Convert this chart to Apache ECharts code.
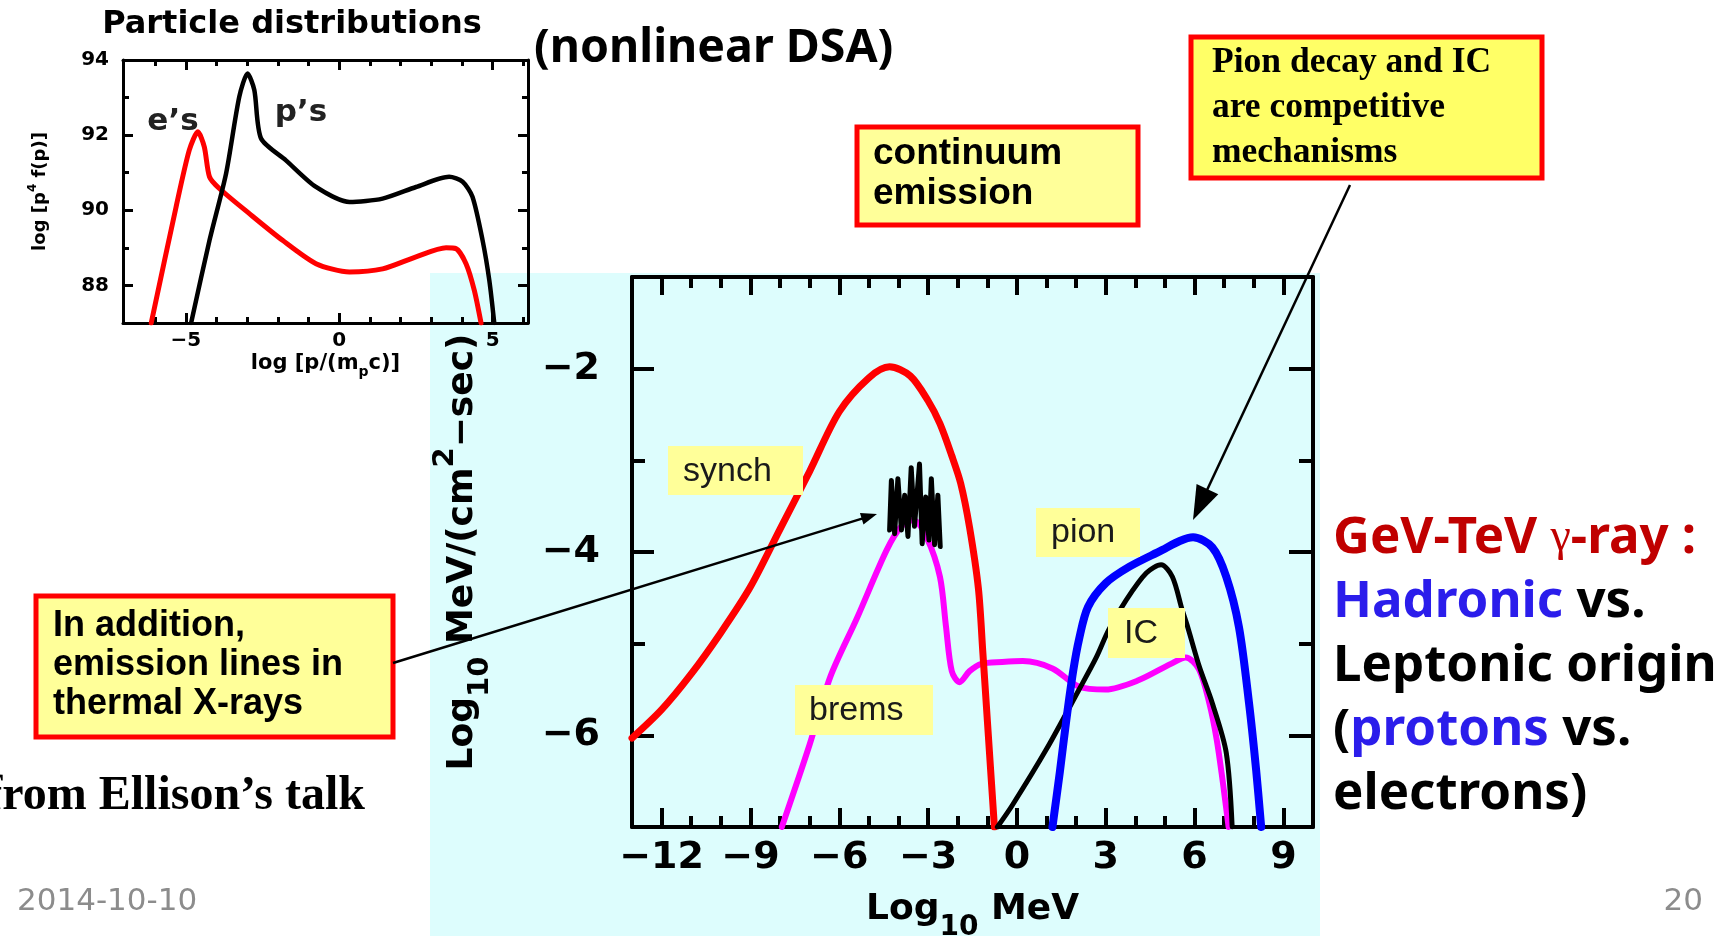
<!DOCTYPE html>
<html><head><meta charset="utf-8">
<script src="https://cdn.jsdelivr.net/npm/echarts@6/dist/echarts.min.js"></script>
<style>html,body{margin:0;padding:0;background:#fff}#c{width:1733px;height:936px}</style>
</head><body><div id="c"></div>
<script>
// ---------------- data ----------------
// main spectrum: x = log10 MeV, y = log10 MeV/(cm^2-sec)
const synchX = [-13,-12,-11,-10,-9,-8,-7,-6,-5,-4.3,-3.6,-3,-2.6,-2.2,-1.9,-1.6,-1.3,-1.15,-1.0,-0.76];
const synchY = [-6.03,-5.72,-5.33,-4.88,-4.38,-3.75,-3.12,-2.47,-2.1,-1.98,-2.08,-2.35,-2.6,-2.95,-3.25,-3.73,-4.4,-5.1,-5.83,-7.0];
const bremsX = [-7.94,-7,-6.3,-5.4,-4.4,-3.9,-3.5,-3.05,-2.6,-2.4,-2.2,-1.94,-1.6,-1.2,-0.5,0.2,1.2,2.1,3.0,4.1,5.2,5.7,6.15,6.5,6.75,6.95,7.15];
const bremsY = [-7,-6.1,-5.36,-4.72,-3.98,-3.72,-3.65,-3.84,-4.27,-4.8,-5.3,-5.42,-5.3,-5.22,-5.2,-5.19,-5.27,-5.47,-5.5,-5.4,-5.22,-5.15,-5.28,-5.65,-6.05,-6.5,-7.0];
const linesX = [-4.30,-4.24,-4.13,-4.02,-3.90,-3.79,-3.68,-3.57,-3.46,-3.29,-3.20,-3.08,-2.97,-2.89,-2.78,-2.67,-2.59];
const linesY = [-3.76,-3.22,-3.80,-3.20,-3.76,-3.38,-3.83,-3.08,-3.72,-3.04,-3.91,-3.40,-3.87,-3.20,-3.92,-3.38,-3.94];
const pionX = [1.2,1.45,1.67,1.9,2.1,2.4,3.0,3.8,4.9,5.5,5.95,6.6,7.07,7.5,7.84,8.08,8.25];
const pionY = [-7,-6.4,-5.83,-5.3,-4.95,-4.6,-4.34,-4.16,-3.98,-3.88,-3.84,-3.95,-4.27,-4.82,-5.65,-6.38,-7];
const icX = [-0.66,-0.15,1.0,2.1,2.68,3.1,3.7,4.37,4.87,5.25,5.58,5.75,6.16,6.6,7.07,7.27];
const icY = [-7,-6.76,-6.15,-5.5,-5.15,-4.85,-4.52,-4.23,-4.14,-4.27,-4.63,-4.8,-5.25,-5.65,-6.19,-7];
// inset: particle distributions
const elecX = [-6.13,-5.32,-4.89,-4.61,-4.4,-4.23,-3.91,-2.93,-1.85,-0.76,0.33,1.41,2.5,3.48,3.8,4.13,4.4,4.62];
const elecY = [87.0,90.09,91.6,92.09,91.69,90.89,90.58,89.91,89.2,88.58,88.36,88.44,88.76,89.0,88.98,88.58,87.87,87.0];
const protX = [-4.83,-4.23,-3.69,-3.26,-2.99,-2.77,-2.55,-1.74,-0.76,0.33,1.41,2.5,3.58,4.02,4.34,4.67,4.89,5.05];
const protY = [87.0,89.2,90.98,93.02,93.64,93.2,91.91,91.33,90.62,90.22,90.31,90.62,90.89,90.76,90.36,89.2,88.13,87.0];
// tick values / labels
const mainXMajor = [-12,-9,-6,-3,0,3,6,9];
const mainXMinor = [-11,-10,-8,-7,-5,-4,-2,-1,1,2,4,5,7,8];
const mainYMajor = [-6,-4,-2];
const mainYMinor = [-5,-3];
const insXMajor = [-5,0,5];
const insXMinor = [-6,-4,-3,-2,-1,1,2,3,4,6];
const insYLabels = [88,90,92,94];
const insYMajor = [88,90,92];
const insYMinor = [89,91,93];

// ---------------- helpers ----------------
const F = 'DejaVu Sans';
const zip = (a, b) => a.map((v, i) => [v, b[i]]);
const fmt = v => (v < 0 ? '\u2212' : '') + Math.abs(v);
function ax(grid, pos, min, max, ticks, len, tw, lw, labels, lab) {
  return {
    type: 'value', gridIndex: grid, position: pos, min: min, max: max,
    axisLine: { show: lw > 0, onZero: false, lineStyle: { color: '#000', width: lw } },
    axisTick: { show: true, inside: true, length: len, customValues: ticks, lineStyle: { color: '#000', width: tw } },
    axisLabel: labels ? Object.assign({ show: true, customValues: labels, formatter: fmt, color: '#000',
      fontFamily: F, fontWeight: 'bold' }, lab) : { show: false },
    splitLine: { show: false }, minorTick: { show: false }, nameMoveOverlap: false
  };
}
function richName(big, small, lh) {
  return {
    a: { fontFamily: F, fontWeight: 'bold', fontSize: big, lineHeight: lh, color: '#000', verticalAlign: 'middle' },
    s: { fontFamily: F, fontWeight: 'bold', fontSize: small, lineHeight: small, color: '#000', verticalAlign: 'bottom' },
    p: { fontFamily: F, fontWeight: 'bold', fontSize: small, lineHeight: small, color: '#000', verticalAlign: 'top' }
  };
}

// main axes
const mx0 = ax(0, 'bottom', -13, 10, mainXMajor, 19, 4, 4, mainXMajor, { fontSize: 38, margin: 12 });
Object.assign(mx0, { name: '{a|Log}{s|10}{a| MeV}', nameLocation: 'middle', nameGap: 51,
  nameTextStyle: { rich: richName(36, 28, 64) } });
const my0 = ax(0, 'left', -7, -1, mainYMajor, 22, 4, 4, mainYMajor, { fontSize: 38, margin: 32 });
Object.assign(my0, { name: '{a|Log}{s|10}{a| MeV/(cm}{p|2}{a|\u2212sec)}', nameLocation: 'middle', nameRotate: 90, nameGap: 137,
  nameTextStyle: { rich: richName(36, 29, 64) } });
// inset axes
const ix0 = ax(1, 'bottom', -7.05, 6.15, insXMajor, 10, 3, 3, insXMajor, { fontSize: 20, margin: 8 });
Object.assign(ix0, { name: '{a|log [p/(m}{s|p}{a|c)]}', nameLocation: 'middle', nameGap: 26,
  nameTextStyle: { rich: { a: { fontFamily: F, fontWeight: 'bold', fontSize: 21, lineHeight: 30, color: '#000', verticalAlign: 'middle' },
    s: { fontFamily: F, fontWeight: 'bold', fontSize: 14, lineHeight: 14, color: '#000', verticalAlign: 'bottom' } } } });
const iy0 = ax(1, 'left', 87, 94, insYMajor, 10, 3, 3, insYLabels, { fontSize: 20, margin: 14 });
Object.assign(iy0, { name: '{a|log [p}{p|4}{a| f(p)]}', nameLocation: 'middle', nameRotate: 90, nameGap: 70,
  nameTextStyle: { rich: { a: { fontFamily: F, fontWeight: 'bold', fontSize: 18, lineHeight: 26, color: '#000', verticalAlign: 'middle' },
    p: { fontFamily: F, fontWeight: 'bold', fontSize: 12, lineHeight: 12, color: '#000', verticalAlign: 'top' } } } });

const xAxes = [
  mx0,
  ax(0, 'bottom', -13, 10, mainXMinor, 11, 4, 0),
  ax(0, 'top', -13, 10, mainXMajor, 18, 4, 4),
  ax(0, 'top', -13, 10, mainXMinor, 11, 4, 0),
  ix0,
  ax(1, 'bottom', -7.05, 6.15, insXMinor, 6, 3, 0),
  ax(1, 'top', -7.05, 6.15, insXMajor, 10, 3, 3),
  ax(1, 'top', -7.05, 6.15, insXMinor, 6, 3, 0)
];
const yAxes = [
  my0,
  ax(0, 'left', -7, -1, mainYMinor, 13, 4, 0),
  ax(0, 'right', -7, -1, mainYMajor, 24, 4, 4),
  ax(0, 'right', -7, -1, mainYMinor, 14, 4, 0),
  iy0,
  ax(1, 'left', 87, 94, insYMinor, 6, 3, 0),
  ax(1, 'right', 87, 94, insYMajor, 10, 3, 3),
  ax(1, 'right', 87, 94, insYMinor, 6, 3, 0)
];

function line(name, xs, ys, color, width, xi, smooth) {
  return { type: 'line', name: name, xAxisIndex: xi, yAxisIndex: xi, data: zip(xs, ys), showSymbol: false, symbol: 'none',
    smooth: smooth, clip: true, silent: true, lineStyle: { color: color, width: width, cap: 'round', join: 'round' } };
}
const series = [
  line('brems', bremsX, bremsY, '#FF00FF', 6, 0, 0.3),
  line('synch', synchX, synchY, '#FF0000', 7, 0, 0.3),
  line('lines', linesX, linesY, '#000000', 5, 0, false),
  line('IC', icX, icY, '#000000', 5, 0, 0.3),
  line('pion', pionX, pionY, '#0000FF', 8, 0, 0.3),
  line('e', elecX, elecY, '#FF0000', 5, 4, 0.25),
  line("p", protX, protY, '#000000', 4.5, 4, 0.25)
];

// ---------------- annotations ----------------
const G = [];
G.push({ type: 'rect', z: -100, shape: { x: 430, y: 273, width: 890, height: 663 }, style: { fill: '#DDFDFD' } });
function txt(x, y, text, o) {
  const st = Object.assign({ text: text, x: x, y: y, fill: '#000', align: 'left', verticalAlign: 'middle' }, o);
  st.textAlign = st.align; st.textVerticalAlign = st.verticalAlign;
  return { type: 'text', z: 110, style: st };
}
function box(x, y, w, h, fill, stroke, lw) {
  return { type: 'rect', z: 105, shape: { x: x, y: y, width: w, height: h }, style: { fill: fill, stroke: stroke || null, lineWidth: lw || 0 } };
}
function arrow(x1, y1, x2, y2, lw, hl, hw) {
  const dx = x2 - x1, dy = y2 - y1, L = Math.hypot(dx, dy), ux = dx / L, uy = dy / L;
  const bx = x2 - ux * hl, by = y2 - uy * hl;
  G.push({ type: 'polyline', z: 108, shape: { points: [[x1, y1], [bx + ux * 2, by + uy * 2]] }, style: { stroke: '#000', lineWidth: lw, fill: null } });
  G.push({ type: 'polygon', z: 108, shape: { points: [[x2, y2], [bx - uy * hw, by + ux * hw], [bx + uy * hw, by - ux * hw]] }, style: { fill: '#000' } });
}
// yellow label boxes in the plot
const lab = { fontFamily: 'Liberation Sans', fontSize: 34, fill: '#1a1a1a' };
G.push(box(668, 446, 135, 49, '#FFFF99'), txt(683, 472, 'synch', lab));
G.push(box(1036, 508, 104, 49, '#FFFF99'), txt(1051, 533, 'pion', lab));
G.push(box(1108, 608, 77, 50, '#FFFF99'), txt(1124, 634, 'IC', lab));
G.push(box(795, 685, 138, 50, '#FFFF99'), txt(809, 711, 'brems', lab));
// callout boxes
G.push(box(857, 127, 281, 98, '#FFFF99', '#FF0000', 5),
  txt(873, 174, 'continuum\nemission', { fontFamily: 'Liberation Sans', fontWeight: 'bold', fontSize: 37, lineHeight: 40 }));
G.push(box(1191, 37, 351, 141, '#FFFF66', '#FF0000', 5),
  txt(1212, 108, 'Pion decay and IC\nare competitive\nmechanisms', { fontFamily: 'Liberation Serif', fontWeight: 'bold', fontSize: 35.5, lineHeight: 45 }));
G.push(box(36, 596, 357, 141, '#FFFF99', '#FF0000', 5),
  txt(53, 665, 'In addition,\nemission lines in\nthermal X-rays', { fontFamily: 'Liberation Sans', fontWeight: 'bold', fontSize: 36, lineHeight: 39 }));
arrow(393, 663, 877, 514, 2.5, 16, 6);
arrow(1350, 185, 1193, 520, 2.5, 34, 12);
// slide texts
G.push(txt(534, 49, '(nonlinear DSA)', { fontFamily: 'Noto Sans', fontWeight: 'bold', fontSize: 46.5 }));
G.push(txt(365, 797, 'from Ellison\u2019s talk', { fontFamily: 'Liberation Serif', fontWeight: 'bold', fontSize: 48, align: 'right' }));
G.push(txt(17, 902, '2014-10-10', { fontFamily: 'DejaVu Sans', fontSize: 31, fill: '#8C8C8C' }));
G.push(txt(1703, 902, '20', { fontFamily: 'DejaVu Sans', fontSize: 31, fill: '#8C8C8C', align: 'right' }));
const rt = {
  r: { fontFamily: 'Noto Sans', fontWeight: 'bold', fontSize: 51, fill: '#C00000', color: '#C00000' },
  g: { fontFamily: 'Liberation Serif', fontSize: 46, fill: '#C00000', color: '#C00000' },
  b: { fontFamily: 'Noto Sans', fontWeight: 'bold', fontSize: 51, fill: '#2B1DEB', color: '#2B1DEB' },
  k: { fontFamily: 'Noto Sans', fontWeight: 'bold', fontSize: 51, fill: '#000', color: '#000' }
};
const rightLines = ['{r|GeV-TeV }{g|\u03b3}{r|-ray :}', '{b|Hadronic}{k| vs.}', '{k|Leptonic origin}', '{k|(}{b|protons}{k| vs.}', '{k|electrons)}'];
rightLines.forEach((s, i) => G.push(txt(1333, 538 + i * 64, s, { rich: rt, fontFamily: 'Noto Sans', fontWeight: 'bold', fontSize: 51 })));
// inset texts
G.push(txt(292, 25, 'Particle distributions', { fontFamily: F, fontWeight: 'bold', fontSize: 32, align: 'center' }));
G.push(txt(173, 122, 'e\u2019s', { fontFamily: F, fontWeight: 'bold', fontSize: 31, fill: '#222', align: 'center' }));
G.push(txt(301, 113, 'p\u2019s', { fontFamily: F, fontWeight: 'bold', fontSize: 31, fill: '#222', align: 'center' }));

const chart = echarts.init(document.getElementById('c'), null, { renderer: 'canvas' });
chart.setOption({
  animation: false,
  backgroundColor: '#ffffff',
  grid: [
    { left: 632, top: 277, width: 681, height: 550, containLabel: false, outerBoundsMode: 'none' },
    { left: 123, top: 60, width: 405, height: 263, containLabel: false, outerBoundsMode: 'none' }
  ],
  xAxis: xAxes,
  yAxis: yAxes,
  series: series,
  graphic: { elements: G }
});
</script></body></html>
